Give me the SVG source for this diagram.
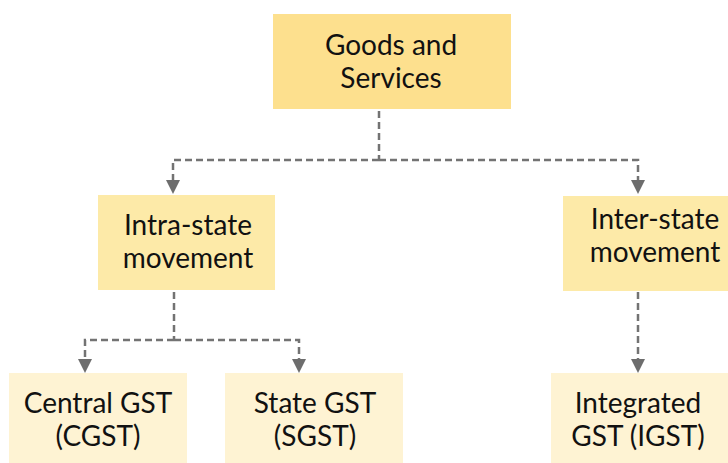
<svg xmlns="http://www.w3.org/2000/svg" width="728" height="463" viewBox="0 0 728 463">
<style>
.t{font-family:Lato,"Open Sans",sans-serif;font-size:28px;fill:#111;text-anchor:middle}
.c{fill:none;stroke:#737373;stroke-width:2.5;stroke-dasharray:7 4}
.a{fill:#6d6d6d}
</style>
<rect width="728" height="463" fill="#fff"/>
<g id="goods">
<rect x="273" y="14" width="238" height="95" fill="#fde08e"/>
<text class="t" x="391" y="55">Goods and</text>
<text class="t" x="391" y="88">Services</text>
</g>
<g id="intra">
<rect x="98" y="195" width="177" height="95" fill="#fdeaa8"/>
<text class="t" x="188" y="235">Intra-state</text>
<text class="t" x="188" y="268">movement</text>
</g>
<g id="inter">
<rect x="563" y="196" width="177" height="95" fill="#fdeaa8"/>
<text class="t" x="655" y="229">Inter-state</text>
<text class="t" x="655" y="262">movement</text>
</g>
<g id="cgst">
<rect x="9" y="373" width="178" height="90" fill="#fef3d3"/>
<text class="t" x="98" y="413">Central GST</text>
<text class="t" x="98" y="446">(CGST)</text>
</g>
<g id="sgst">
<rect x="225" y="373" width="178" height="90" fill="#fef3d3"/>
<text class="t" x="315" y="413">State GST</text>
<text class="t" x="315" y="446">(SGST)</text>
</g>
<g id="igst">
<rect x="551" y="373" width="177" height="90" fill="#fef3d3"/>
<text class="t" x="638" y="413">Integrated</text>
<text class="t" x="638" y="446">GST (IGST)</text>
</g>
<g id="connectors">
<path class="c" d="M379,111 V160"/>
<path class="c" d="M379,160 H173 V181"/>
<path class="c" d="M379,160 H638 V181"/>
<path class="a" d="M166,180 H180 L173,194 Z"/>
<path class="a" d="M631,180 H645 L638,194 Z"/>
<path class="c" d="M174,292 V340"/>
<path class="c" d="M174,340 H85 V360"/>
<path class="c" d="M174,340 H299 V360"/>
<path class="a" d="M78,359 H92 L85,373 Z"/>
<path class="a" d="M292,359 H306 L299,373 Z"/>
<path class="c" d="M638,292 V360"/>
<path class="a" d="M631,359 H645 L638,373 Z"/>
</g>
</svg>
